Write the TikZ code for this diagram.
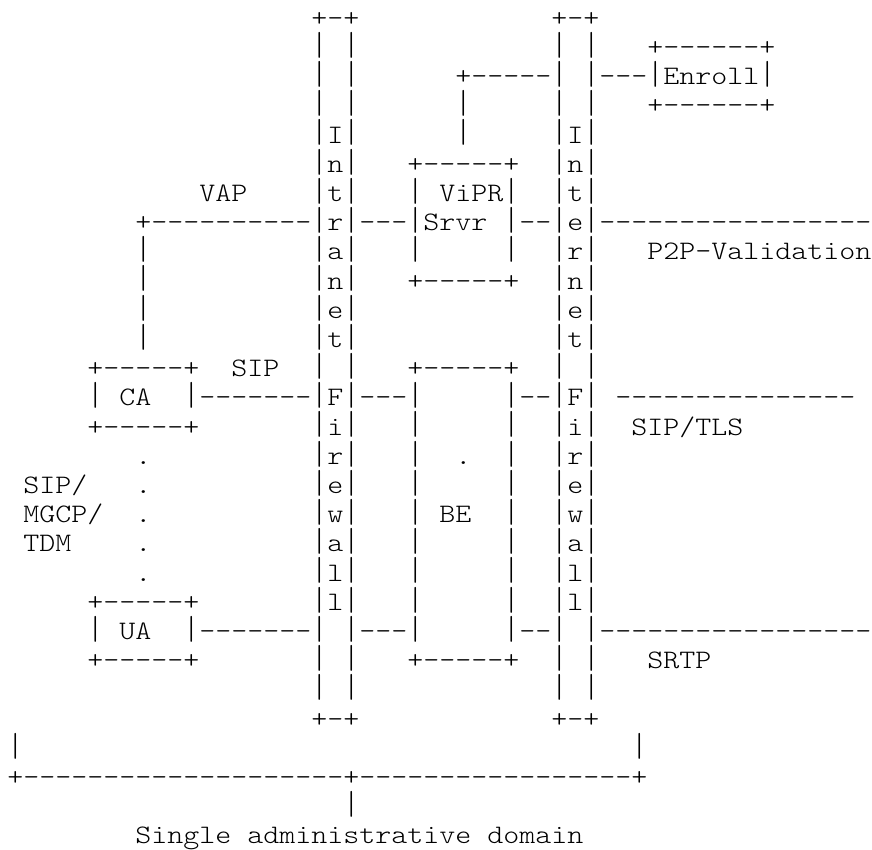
\documentclass[tikz,border=0pt]{standalone}
\usepackage{fontspec}
\newfontfamily\asc{Latin Modern Mono Light}[FakeStretch=1.142857]
\tikzset{seg/.style={anchor=base west,inner sep=0pt,outer sep=0pt,font=\asc\fontsize{10pt}{10.95pt}\selectfont,text=black}}
\newcommand\seg[3]{\node[seg] (s#2x#1) at ({#1-0.5},#2) {#3};}
% vertical bar character, stretched to the height of the reference's Courier bar
\newcommand\vb{\raisebox{-1pt}{\resizebox*{\width}{9.75pt}{\raisebox{\depth}{|}}}}
\begin{document}
\begin{tikzpicture}[x=6pt,y=-10.95pt]
\fill[white] (-0.956,-0.897) rectangle (53.54,28.21);
\useasboundingbox (-0.956,-0.897) rectangle (53.54,28.21);
% row 0
\seg{19}{0}{+-+}\seg{34}{0}{+-+}
% row 1
\seg{19}{1}{\vb}\seg{21}{1}{\vb}\seg{34}{1}{\vb}\seg{36}{1}{\vb}\seg{40}{1}{+------+}
% row 2
\seg{19}{2}{\vb}\seg{21}{2}{\vb}\seg{28}{2}{+-----\vb}\seg{36}{2}{\vb---\vb Enroll\vb}
% row 3
\seg{19}{3}{\vb}\seg{21}{3}{\vb}\seg{28}{3}{\vb}\seg{34}{3}{\vb}\seg{36}{3}{\vb}\seg{40}{3}{+------+}
% row 4
\seg{19}{4}{\vb I\vb}\seg{28}{4}{\vb}\seg{34}{4}{\vb I\vb}
% row 5
\seg{19}{5}{\vb n\vb}\seg{25}{5}{+-----+}\seg{34}{5}{\vb n\vb}
% row 6
\seg{12}{6}{VAP}\seg{19}{6}{\vb t\vb}\seg{25}{6}{\vb}\seg{27}{6}{ViPR\vb}\seg{34}{6}{\vb t\vb}
% row 7
\seg{8}{7}{+----------\vb r\vb---\vb Srvr}\seg{31}{7}{\vb--\vb e\vb-----------------}
% row 8
\seg{8}{8}{\vb}\seg{19}{8}{\vb a\vb}\seg{25}{8}{\vb}\seg{31}{8}{\vb}\seg{34}{8}{\vb r\vb}\seg{40}{8}{P2P-Validation}
% row 9
\seg{8}{9}{\vb}\seg{19}{9}{\vb n\vb}\seg{25}{9}{+-----+}\seg{34}{9}{\vb n\vb}
% row 10
\seg{8}{10}{\vb}\seg{19}{10}{\vb e\vb}\seg{34}{10}{\vb e\vb}
% row 11
\seg{8}{11}{\vb}\seg{19}{11}{\vb t\vb}\seg{34}{11}{\vb t\vb}
% row 12
\seg{5}{12}{+-----+}\seg{14}{12}{SIP}\seg{19}{12}{\vb}\seg{21}{12}{\vb}\seg{25}{12}{+-----+}\seg{34}{12}{\vb}\seg{36}{12}{\vb}
% row 13
\seg{5}{13}{\vb}\seg{7}{13}{CA}\seg{11}{13}{\vb-------\vb F\vb---\vb}\seg{31}{13}{\vb--\vb F\vb}\seg{38}{13}{---------------}
% row 14
\seg{5}{14}{+-----+}\seg{19}{14}{\vb i\vb}\seg{25}{14}{\vb}\seg{31}{14}{\vb}\seg{34}{14}{\vb i\vb}\seg{39}{14}{SIP/TLS}
% row 15
\seg{8}{15}{.}\seg{19}{15}{\vb r\vb}\seg{25}{15}{\vb}\seg{28}{15}{.}\seg{31}{15}{\vb}\seg{34}{15}{\vb r\vb}
% row 16
\seg{1}{16}{SIP/}\seg{8}{16}{.}\seg{19}{16}{\vb e\vb}\seg{25}{16}{\vb}\seg{31}{16}{\vb}\seg{34}{16}{\vb e\vb}
% row 17
\seg{1}{17}{MGCP/}\seg{8}{17}{.}\seg{19}{17}{\vb w\vb}\seg{25}{17}{\vb}\seg{27}{17}{BE}\seg{31}{17}{\vb}\seg{34}{17}{\vb w\vb}
% row 18
\seg{1}{18}{TDM}\seg{8}{18}{.}\seg{19}{18}{\vb a\vb}\seg{25}{18}{\vb}\seg{31}{18}{\vb}\seg{34}{18}{\vb a\vb}
% row 19
\seg{8}{19}{.}\seg{19}{19}{\vb l\vb}\seg{25}{19}{\vb}\seg{31}{19}{\vb}\seg{34}{19}{\vb l\vb}
% row 20
\seg{5}{20}{+-----+}\seg{19}{20}{\vb l\vb}\seg{25}{20}{\vb}\seg{31}{20}{\vb}\seg{34}{20}{\vb l\vb}
% row 21
\seg{5}{21}{\vb}\seg{7}{21}{UA}\seg{11}{21}{\vb-------\vb}\seg{21}{21}{\vb---\vb}\seg{31}{21}{\vb--\vb}\seg{36}{21}{\vb-----------------}
% row 22
\seg{5}{22}{+-----+}\seg{19}{22}{\vb}\seg{21}{22}{\vb}\seg{25}{22}{+-----+}\seg{34}{22}{\vb}\seg{36}{22}{\vb}\seg{40}{22}{SRTP}
% row 23
\seg{19}{23}{\vb}\seg{21}{23}{\vb}\seg{34}{23}{\vb}\seg{36}{23}{\vb}
% row 24
\seg{19}{24}{+-+}\seg{34}{24}{+-+}
% row 25
\seg{0}{25}{\vb}\seg{39}{25}{\vb}
% row 26
\seg{0}{26}{+--------------------+-----------------+}
% row 27
\seg{21}{27}{\vb}
% row 28
\seg{8}{28}{Single}\seg{15}{28}{administrative}\seg{30}{28}{domain}
\end{tikzpicture}
\end{document}
